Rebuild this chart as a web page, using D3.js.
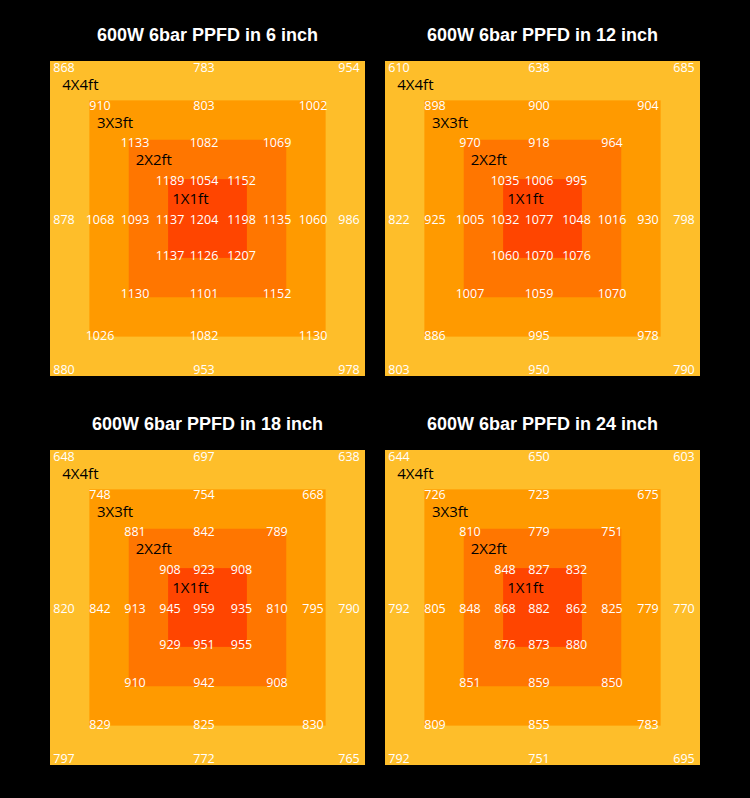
<!DOCTYPE html>
<html>
<head>
<meta charset="utf-8">
<script src="https://cdn.jsdelivr.net/npm/d3@7"></script>
<style>
  html, body { margin: 0; padding: 0; background: #000; }
  svg { display: block; }
</style>
</head>
<body>
<div id="chart"></div>
<script>
// ---------------- DATA ----------------
const titles = [
  "600W 6bar PPFD in 6 inch",
  "600W 6bar PPFD in 12 inch",
  "600W 6bar PPFD in 18 inch",
  "600W 6bar PPFD in 24 inch"
];

// measurement rows, top to bottom (row 4 is the full middle row)
const ppfd6 = [
  [868, 783, 954],
  [910, 803, 1002],
  [1133, 1082, 1069],
  [1189, 1054, 1152],
  [878, 1068, 1093, 1137, 1204, 1198, 1135, 1060, 986],
  [1137, 1126, 1207],
  [1130, 1101, 1152],
  [1026, 1082, 1130],
  [880, 953, 978]
];
const ppfd12 = [
  [610, 638, 685],
  [898, 900, 904],
  [970, 918, 964],
  [1035, 1006, 995],
  [822, 925, 1005, 1032, 1077, 1048, 1016, 930, 798],
  [1060, 1070, 1076],
  [1007, 1059, 1070],
  [886, 995, 978],
  [803, 950, 790]
];
const ppfd18 = [
  [648, 697, 638],
  [748, 754, 668],
  [881, 842, 789],
  [908, 923, 908],
  [820, 842, 913, 945, 959, 935, 810, 795, 790],
  [929, 951, 955],
  [910, 942, 908],
  [829, 825, 830],
  [797, 772, 765]
];
const ppfd24 = [
  [644, 650, 603],
  [726, 723, 675],
  [810, 779, 751],
  [848, 827, 832],
  [792, 805, 848, 868, 882, 862, 825, 779, 770],
  [876, 873, 880],
  [851, 859, 850],
  [809, 855, 783],
  [792, 751, 695]
];

// coverage areas (side in feet)
const areaLabels = ["4X4ft", "3X3ft", "2X2ft", "1X1ft"];
const areaSides = [4, 3, 2, 1];
const areaColors = ["#FEBE2A", "#FF9A00", "#FF7600", "#FF4500"];

// ---------------- LAYOUT ----------------
const W = 750, H = 798;
const P = 315; // panel size
const panelData = [ppfd6, ppfd12, ppfd18, ppfd24];

const svg = d3.select("#chart").append("svg")
  .attr("width", W).attr("height", H)
  .style("background", "#000");

const panelX = d3.scaleOrdinal().domain([0, 1]).range([50, 385]);
const panelY = d3.scaleOrdinal().domain([0, 1]).range([61, 450]);

// feet -> px inside a panel
const ft = d3.scaleLinear().domain([-2, 2]).range([0, P]);

// measurement grid (column / row index -> px centre)
const colScale = d3.scaleLinear().domain(d3.range(9))
  .range([14, 50, 85, 120, 154, 191.5, 227, 263, 299]);
const rowScale = d3.scaleLinear().domain(d3.range(9))
  .range([6.7, 44, 81, 119.7, 158.3, 194, 232.5, 274.5, 308.5]);

// which columns the values of each row sit in
function rowCols(r) {
  if (r === 4) return d3.range(9);
  const k = r < 4 ? r : 8 - r;
  return [k, 4, 8 - k];
}

const numFont = "'Open Sans', 'Noto Sans', sans-serif";

panelData.forEach((rows, i) => {
  const g = svg.append("g")
    .attr("transform", `translate(${panelX(i % 2)},${panelY(Math.floor(i / 2))})`);

  g.append("text")
    .attr("x", P / 2).attr("y", -20)
    .attr("text-anchor", "middle")
    .attr("fill", "#fff")
    .style("font-family", "'Liberation Sans', Arial, sans-serif")
    .style("font-weight", "bold")
    .style("font-size", "18px")
    .text(titles[i]);

  g.selectAll("rect.area").data(areaSides).join("rect")
    .attr("class", "area")
    .attr("x", d => ft(-d / 2))
    .attr("y", d => ft(-d / 2))
    .attr("width", d => ft(d / 2) - ft(-d / 2))
    .attr("height", d => ft(d / 2) - ft(-d / 2))
    .attr("fill", (d, j) => areaColors[j]);

  // area labels sit between measurement rows
  const labelDX = [-1.7, -3, 0.7, 2.3];
  g.selectAll("text.lab").data(areaLabels).join("text")
    .attr("class", "lab")
    .attr("x", (d, j) => colScale(j) + labelDX[j])
    .attr("y", (d, j) => (rowScale(j) + rowScale(j + 1)) / 2 + 4)
    .attr("fill", "#000")
    .style("font-family", numFont)
    .style("font-size", "15px")
    .text(d => d);

  const pts = [];
  rows.forEach((vals, r) => {
    const cols = rowCols(r);
    vals.forEach((v, k) => pts.push({ r, c: cols[k], v }));
  });

  g.selectAll("text.val").data(pts).join("text")
    .attr("class", "val")
    .attr("x", d => colScale(d.c))
    .attr("y", d => rowScale(d.r))
    .attr("dy", "0.36em")
    .attr("text-anchor", "middle")
    .attr("fill", "#fff")
    .style("font-family", numFont)
    .style("font-size", "12.5px")
    .text(d => d.v);
});
</script>
</body>
</html>
